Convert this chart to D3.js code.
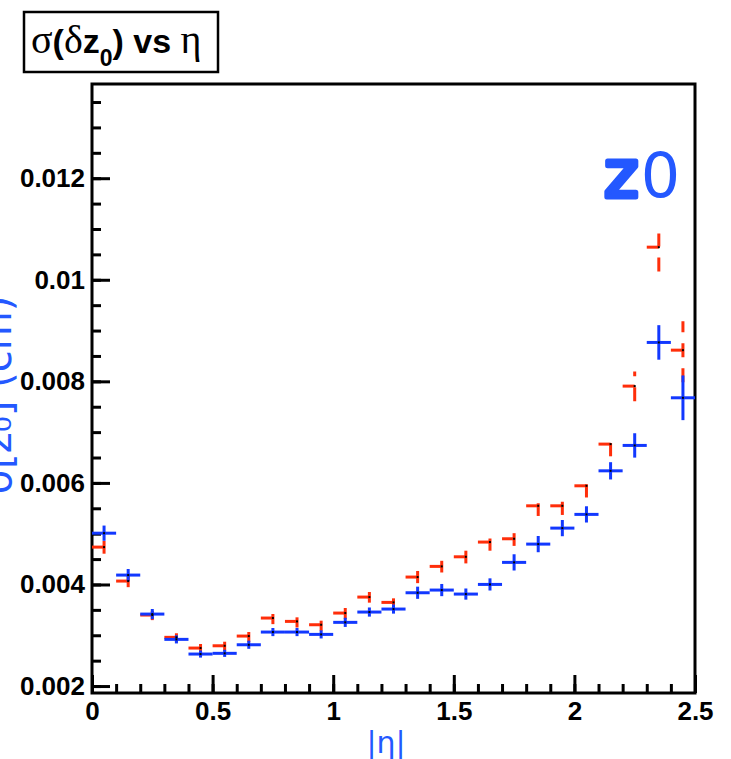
<!DOCTYPE html>
<html>
<head>
<meta charset="utf-8">
<script src="https://cdn.jsdelivr.net/npm/d3@7"></script>
<style>
  body { margin: 0; background: #fff; }
  svg { display: block; }
  .tick text { font-family: "Liberation Sans", Arial, sans-serif; font-weight: bold; font-size: 26px; fill: #000; }
</style>
</head>
<body>
<div id="chart"></div>
<script>
// |eta| bin centres (bin width 0.1)
var etaCenters = [0.05, 0.15, 0.25, 0.35, 0.45, 0.55, 0.65, 0.75, 0.85, 0.95,
                  1.05, 1.15, 1.25, 1.35, 1.45, 1.55, 1.65, 1.75, 1.85, 1.95,
                  2.05, 2.15, 2.25, 2.35, 2.45];
var binWidth = 0.1;

// blue series: sigma(dz0) and its error
var blueValues = [0.00501, 0.004185, 0.003417, 0.002919, 0.00263, 0.002644, 0.002813, 0.003063, 0.003063, 0.003017,
                  0.003254, 0.003457, 0.003516, 0.003837, 0.00389, 0.003811, 0.004001, 0.004435, 0.004795, 0.00511,
                  0.00538, 0.006238, 0.006738, 0.008766, 0.007676];
var blueErrors = [0.00015, 0.00012, 0.0001, 0.00008, 0.00007, 0.00007, 0.00008, 0.00008, 0.00008, 0.00008,
                  0.00009, 0.00009, 0.00009, 0.00012, 0.00012, 0.00011, 0.00012, 0.00016, 0.00016, 0.00016,
                  0.00016, 0.00017, 0.00024, 0.00034, 0.00044];

// red series: sigma(dz0), upper and lower error
var redValues = [0.004736, 0.004067, 0.003398, 0.002959, 0.002748, 0.002793, 0.002984, 0.003339, 0.003273, 0.003207,
                 0.003437, 0.003752, 0.003647, 0.004146, 0.004356, 0.004545, 0.004835, 0.0049, 0.005549, 0.005549,
                 0.005943, 0.006764, 0.007906, 0.010642, 0.008614];
var redErrUp = [0.00012, 0.00012, 0.00008, 0.00008, 0.00008, 0.00008, 0.00008, 0.00008, 0.00008, 0.00008,
                0.0001, 0.0001, 0.00008, 0.00012, 0.00011, 0.00012, 0.00007, 0.00011, 0.00005, 0.00008,
                0.00003, 0.00002, 0.00029, 0.00027, 0.00057];
var redErrDown = [0.00013, 0.00012, 0.0001, 0.0001, 0.0001, 0.0001, 0.00012, 0.00012, 0.00012, 0.00012,
                  0.00012, 0.00011, 0.00012, 0.00012, 0.00012, 0.00013, 0.00017, 0.00014, 0.0002, 0.00018,
                  0.00023, 0.00024, 0.0003, 0.00048, 0.00063];

// axis ticks
var xTicks = [0, 0.5, 1, 1.5, 2, 2.5];
var yTicks = [0.002, 0.004, 0.006, 0.008, 0.01, 0.012];

var W = 731, H = 759;
var frame = {left: 92, right: 695, top: 84, bottom: 693};
var blue = "#1238ff", red = "#ff2e0a", titleBlue = "#2458ff";

var svg = d3.select("#chart").append("svg")
    .attr("width", W)
    .attr("height", H);

var x = d3.scaleLinear().domain([0, 2.5]).range([frame.left, frame.right]);
var y = d3.scaleLinear().domain([0.001863, 0.013855]).range([frame.bottom, frame.top]);

// --------------------------------------------------
// Axes (ticks point inward, only left and bottom)
// --------------------------------------------------
var xMinor = d3.range(0, 2.5001, 0.1);
var yMinor = d3.range(0.002, 0.01386, 0.0005);

function thickTicks(g) {
    g.select(".domain").remove();
    g.selectAll("line").attr("stroke-width", 3);
}

svg.append("g")
    .attr("transform", "translate(0," + frame.bottom + ")")
    .call(d3.axisBottom(x).tickValues(xMinor).tickSize(-9).tickFormat(""))
    .call(thickTicks);

svg.append("g")
    .attr("transform", "translate(0," + frame.bottom + ")")
    .call(d3.axisBottom(x).tickValues(xTicks).tickSize(-18).tickPadding(9).tickFormat(d3.format("")))
    .call(thickTicks);

svg.append("g")
    .attr("transform", "translate(" + frame.left + ",0)")
    .call(d3.axisLeft(y).tickValues(yMinor).tickSize(-9).tickFormat(""))
    .call(thickTicks);

svg.append("g")
    .attr("transform", "translate(" + frame.left + ",0)")
    .call(d3.axisLeft(y).tickValues(yTicks).tickSize(-18).tickPadding(7).tickFormat(d3.format("")))
    .call(thickTicks);

// Frame
svg.append("rect")
    .attr("x", frame.left)
    .attr("y", frame.top)
    .attr("width", frame.right - frame.left)
    .attr("height", frame.bottom - frame.top)
    .attr("fill", "none")
    .attr("stroke", "#000")
    .attr("stroke-width", 3);

// --------------------------------------------------
// Data points
// --------------------------------------------------
var redData = etaCenters.map(function(e, i) {
    return {eta: e, v: redValues[i], up: redErrUp[i], down: redErrDown[i]};
});
var blueData = etaCenters.map(function(e, i) {
    return {eta: e, v: blueValues[i], err: blueErrors[i]};
});

var redG = svg.append("g").attr("stroke", red).attr("stroke-width", 3);
// red: left half of the bin, dashed vertical error bar
redG.selectAll(".rh").data(redData).enter().append("line")
    .attr("x1", function(d) { return x(d.eta - binWidth / 2); })
    .attr("x2", function(d) { return x(d.eta); })
    .attr("y1", function(d) { return y(d.v); })
    .attr("y2", function(d) { return y(d.v); });
redG.selectAll(".rv").data(redData).enter().append("line")
    .attr("x1", function(d) { return x(d.eta); })
    .attr("x2", function(d) { return x(d.eta); })
    .attr("y1", function(d) { return y(d.v - d.down); })
    .attr("y2", function(d) { return y(d.v + d.up); })
    .attr("stroke-dasharray", "14 11");

var blueG = svg.append("g").attr("stroke", blue).attr("stroke-width", 3);
blueG.selectAll(".bh").data(blueData).enter().append("line")
    .attr("x1", function(d) { return x(d.eta - binWidth / 2); })
    .attr("x2", function(d) { return x(d.eta + binWidth / 2); })
    .attr("y1", function(d) { return y(d.v); })
    .attr("y2", function(d) { return y(d.v); });
blueG.selectAll(".bv").data(blueData).enter().append("line")
    .attr("x1", function(d) { return x(d.eta); })
    .attr("x2", function(d) { return x(d.eta); })
    .attr("y1", function(d) { return y(d.v - d.err); })
    .attr("y2", function(d) { return y(d.v + d.err); });

// tiny black markers at the centres
svg.append("g").selectAll("rect").data(redData.concat(blueData)).enter().append("rect")
    .attr("x", function(d) { return x(d.eta) - 1; })
    .attr("y", function(d) { return y(d.v) - 1; })
    .attr("width", 2)
    .attr("height", 2)
    .attr("fill", "#000");

// --------------------------------------------------
// Titles
// --------------------------------------------------
svg.append("rect")
    .attr("x", 24).attr("y", 12)
    .attr("width", 194).attr("height", 60)
    .attr("fill", "#fff")
    .attr("stroke", "#000")
    .attr("stroke-width", 2.5);

var serif = "Liberation Serif, Times New Roman, serif";
var title = svg.append("text")
    .attr("x", 31).attr("y", 53)
    .style("font-family", "Liberation Sans, Arial, sans-serif")
    .style("font-weight", "bold")
    .style("font-size", "34px");
title.append("tspan").style("font-family", serif).style("font-weight", "normal").style("font-size", "40px").text("σ");
title.append("tspan").text("(");
title.append("tspan").style("font-family", serif).style("font-weight", "normal").style("font-size", "40px").text("δ");
title.append("tspan").text("z");
title.append("tspan").attr("dy", 13).style("font-size", "23px").text("0");
title.append("tspan").attr("dy", -13).text(") vs ");
title.append("tspan").style("font-family", serif).style("font-weight", "normal").style("font-size", "40px").text("η");

// x axis title
svg.append("text")
    .attr("x", 386).attr("y", 753)
    .attr("text-anchor", "middle")
    .style("font-family", "DejaVu Sans, sans-serif")
    .style("font-size", "30px")
    .attr("fill", titleBlue)
    .text("|η|");

// y axis title (mostly cut off at the left edge, as in the original)
svg.append("text")
    .attr("transform", "translate(11,395) rotate(-90)")
    .attr("text-anchor", "middle")
    .style("font-family", "DejaVu Sans, sans-serif")
    .style("font-size", "40px")
    .attr("fill", titleBlue)
    .text("σ[z₀] (cm)");

// big z0 label
var zlab = svg.append("text")
    .attr("x", 604).attr("y", 197)
    .attr("fill", titleBlue)
    .attr("stroke", titleBlue)
    .attr("stroke-linejoin", "round")
    .style("font-family", "DejaVu Sans, sans-serif");
zlab.append("tspan").attr("stroke-width", 5).style("font-size", "66px").text("z");
zlab.append("tspan").attr("dx", 2).attr("stroke-width", 0).style("font-size", "62px").text("0");
</script>
</body>
</html>
